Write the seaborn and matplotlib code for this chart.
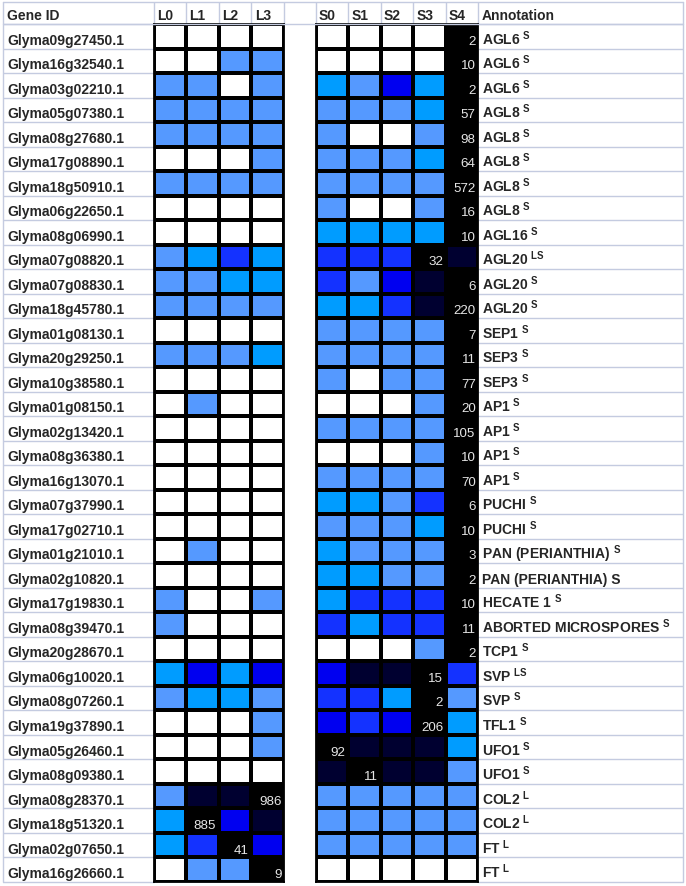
import numpy as np
import pandas as pd
import matplotlib
matplotlib.use('Agg')
import matplotlib.pyplot as plt
import matplotlib.transforms as mtransforms
from matplotlib.colors import ListedColormap
import seaborn as sns

sns.set_style('white')
plt.rcParams['font.family'] = ['Liberation Sans', 'DejaVu Sans']
plt.rcParams['mathtext.fontset'] = 'custom'
plt.rcParams['mathtext.bf'] = 'Liberation Sans:bold'
plt.rcParams['mathtext.rm'] = 'Liberation Sans'

gene_ids = ['Glyma09g27450.1', 'Glyma16g32540.1', 'Glyma03g02210.1', 'Glyma05g07380.1',
            'Glyma08g27680.1', 'Glyma17g08890.1', 'Glyma18g50910.1', 'Glyma06g22650.1',
            'Glyma08g06990.1', 'Glyma07g08820.1', 'Glyma07g08830.1', 'Glyma18g45780.1',
            'Glyma01g08130.1', 'Glyma20g29250.1', 'Glyma10g38580.1', 'Glyma01g08150.1',
            'Glyma02g13420.1', 'Glyma08g36380.1', 'Glyma16g13070.1', 'Glyma07g37990.1',
            'Glyma17g02710.1', 'Glyma01g21010.1', 'Glyma02g10820.1', 'Glyma17g19830.1',
            'Glyma08g39470.1', 'Glyma20g28670.1', 'Glyma06g10020.1', 'Glyma08g07260.1',
            'Glyma19g37890.1', 'Glyma05g26460.1', 'Glyma08g09380.1', 'Glyma08g28370.1',
            'Glyma18g51320.1', 'Glyma02g07650.1', 'Glyma16g26660.1']

leaf_cols = ['L0', 'L1', 'L2', 'L3']
shoot_cols = ['S0', 'S1', 'S2', 'S3', 'S4']

# expression class per cell: 0 none ... 6 = highest (cell holding the number)
leaf_levels = [
    [0, 0, 0, 0], [0, 0, 1, 1], [1, 1, 0, 1], [1, 1, 1, 1], [1, 1, 1, 1],
    [0, 0, 0, 1], [1, 1, 1, 1], [0, 0, 0, 0], [0, 0, 0, 0], [1, 2, 3, 2],
    [1, 1, 2, 2], [1, 1, 1, 1], [0, 0, 0, 0], [1, 1, 1, 2], [0, 0, 0, 0],
    [0, 1, 0, 0], [0, 0, 0, 0], [0, 0, 0, 0], [0, 0, 0, 0], [0, 0, 0, 0],
    [0, 0, 0, 0], [0, 1, 0, 0], [0, 0, 0, 0], [1, 0, 0, 1], [1, 0, 0, 0],
    [0, 0, 0, 0], [2, 4, 2, 4], [1, 2, 2, 1], [0, 0, 0, 1], [0, 0, 0, 1],
    [0, 0, 0, 0], [1, 5, 5, 6], [2, 6, 4, 5], [2, 3, 6, 4], [0, 1, 1, 6]]

shoot_levels = [
    [0, 0, 0, 0, 6], [0, 0, 0, 0, 6], [2, 1, 4, 2, 6], [1, 1, 1, 2, 6], [1, 0, 0, 1, 6],
    [1, 1, 1, 2, 6], [1, 1, 1, 1, 6], [1, 0, 0, 1, 6], [2, 2, 2, 2, 6], [3, 3, 3, 6, 5],
    [3, 1, 4, 5, 6], [2, 2, 3, 5, 6], [1, 1, 1, 1, 6], [1, 1, 1, 1, 6], [1, 0, 1, 1, 6],
    [0, 0, 0, 1, 6], [1, 1, 1, 1, 6], [0, 0, 0, 1, 6], [1, 1, 1, 1, 6], [2, 2, 1, 3, 6],
    [1, 1, 1, 2, 6], [2, 1, 1, 1, 6], [2, 2, 1, 1, 6], [2, 3, 3, 3, 6], [3, 2, 3, 3, 6],
    [0, 0, 0, 1, 6], [4, 5, 5, 6, 3], [3, 3, 2, 6, 1], [4, 3, 4, 6, 2], [6, 5, 5, 5, 2],
    [5, 6, 5, 5, 1], [1, 1, 1, 1, 1], [1, 1, 1, 1, 1], [1, 1, 1, 1, 1], [0, 0, 0, 0, 0]]

peak_values = [2, 10, 2, 57, 98, 64, 572, 16, 10, 32, 6, 220, 7, 11, 77, 20, 105, 10,
               70, 6, 10, 3, 2, 10, 11, 2, 15, 2, 206, 92, 11, 986, 885, 41, 9]

annot_names = ['AGL6', 'AGL6', 'AGL6', 'AGL8', 'AGL8', 'AGL8', 'AGL8', 'AGL8', 'AGL16',
               'AGL20', 'AGL20', 'AGL20', 'SEP1', 'SEP3', 'SEP3', 'AP1', 'AP1', 'AP1', 'AP1',
               'PUCHI', 'PUCHI', 'PAN (PERIANTHIA)', 'PAN (PERIANTHIA) S', 'HECATE 1',
               'ABORTED MICROSPORES', 'TCP1', 'SVP', 'SVP', 'TFL1', 'UFO1', 'UFO1',
               'COL2', 'COL2', 'FT', 'FT']
annot_sup = ['S', 'S', 'S', 'S', 'S', 'S', 'S', 'S', 'S', 'LS', 'S', 'S', 'S', 'S', 'S',
             'S', 'S', 'S', 'S', 'S', 'S', 'S', '', 'S', 'S', 'S', 'LS', 'S', 'S', 'S', 'S',
             'L', 'L', 'L', 'L']

level_colors = ['#FFFFFF', '#5599FF', '#009CFF', '#1432FF', '#0000F0', '#000030', '#000000']
cmap = ListedColormap(level_colors)
grid_c = '#C4CBE0'
W, H = 686, 887
n = len(gene_ids)
fs = 10


def peak_labels(levels):
    lab = np.full(np.shape(levels), '', dtype=object)
    for i, row in enumerate(levels):
        for j, v in enumerate(row):
            if v == 6:
                lab[i, j] = str(peak_values[i])
    return lab


fig = plt.figure(figsize=(W / 100, H / 100), dpi=100)
top_px, bot_px = 25, 883
ax_L = fig.add_axes([153.5 / W, 1 - bot_px / H, 130.5 / W, (bot_px - top_px) / H])
ax_S = fig.add_axes([315.7 / W, 1 - bot_px / H, 162.6 / W, (bot_px - top_px) / H])

for ax, levels, cols in [(ax_L, leaf_levels, leaf_cols), (ax_S, shoot_levels, shoot_cols)]:
    df = pd.DataFrame(levels, index=gene_ids, columns=cols)
    sns.heatmap(df, ax=ax, cmap=cmap, vmin=-0.5, vmax=6.5, cbar=False,
                linewidths=1.6, linecolor='black', annot=peak_labels(levels), fmt='',
                annot_kws=dict(color='#E6E6E6', fontsize=9.6, ha='right', va='baseline'),
                xticklabels=False, yticklabels=False)
    for t in ax.texts:
        x, y = t.get_position()
        t.set_position((x + 0.42, y + 0.3))
    for sp in ax.spines.values():
        sp.set_visible(True)
        sp.set_color('black')
        sp.set_linewidth(1.3)

    # header labels on top of each column
    trh = mtransforms.blended_transform_factory(ax.transData, fig.transFigure)
    for j, c in enumerate(cols):
        ax.text(j + 0.1, 1 - 19.5 / H, c, transform=trh, ha='left', va='baseline',
                fontweight='bold', fontsize=fs)
    ax.vlines(np.arange(len(cols) + 1), 1 - 2.5 / H, 1 - top_px / H, transform=trh,
              color=grid_c, lw=1, clip_on=False, zorder=0)

trL = mtransforms.blended_transform_factory(fig.transFigure, ax_L.transData)
trS = mtransforms.blended_transform_factory(fig.transFigure, ax_S.transData)

# spreadsheet grid outside the coloured blocks
ax_L.hlines(np.arange(n + 1), 3 / W, 153.5 / W, transform=trL, color=grid_c, lw=1,
            clip_on=False, zorder=0)
ax_S.hlines(np.arange(n + 1), 478.3 / W, 683 / W, transform=trS, color=grid_c, lw=1,
            clip_on=False, zorder=0)
fig.add_artist(plt.Line2D([3 / W, 683 / W], [1 - 2.5 / H] * 2, color=grid_c, lw=1))
fig.add_artist(plt.Line2D([3 / W, 683 / W], [1 - top_px / H] * 2, color=grid_c, lw=1))
fig.add_artist(plt.Line2D([3 / W] * 2, [1 - 2.5 / H, 1 - bot_px / H], color=grid_c, lw=1))
fig.add_artist(plt.Line2D([683 / W] * 2, [1 - 2.5 / H, 1 - bot_px / H], color=grid_c, lw=1))

fig.text(7 / W, 1 - 19.5 / H, 'Gene ID', ha='left', va='baseline', fontweight='bold',
         fontsize=fs)
fig.text(481.5 / W, 1 - 19.5 / H, 'Annotation', ha='left', va='baseline',
         fontweight='bold', fontsize=fs)

for i, gid in enumerate(gene_ids):
    ax_L.text(7 / W, i + 0.8, gid, transform=trL, ha='left', va='baseline',
              fontweight='bold', fontsize=fs, clip_on=False)
    label = annot_names[i]
    if annot_sup[i]:
        label = label + r' $^{\mathbf{' + annot_sup[i] + '}}$'
    ax_S.text(481.5 / W, i + 0.8, label, transform=trS, ha='left', va='baseline',
              fontweight='bold', fontsize=fs, clip_on=False)

fig.savefig('out.png', dpi=100, facecolor='white')
